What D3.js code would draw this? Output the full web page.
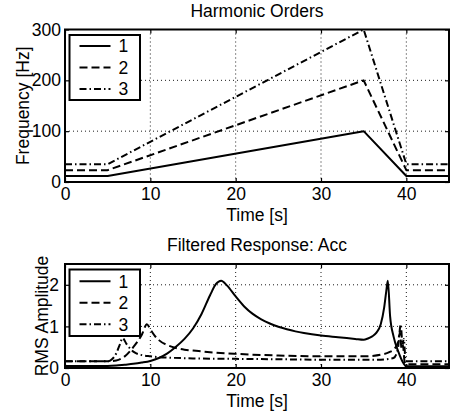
<!DOCTYPE html>
<html>
<head>
<meta charset="utf-8">
<script src="https://cdn.jsdelivr.net/npm/d3@7"></script>
<style>
  html, body { margin: 0; padding: 0; background: #fff; }
  svg { display: block; }
  text { font-family: "Liberation Sans", Arial, Helvetica, sans-serif; fill: #000; }
</style>
</head>
<body>
<svg id="chart" width="450" height="414"></svg>
<script>
// ---------- data ----------
const seriesNames = ["1", "2", "3"];

// Top panel: harmonic order frequencies
const orderTime = [0, 5, 35, 40, 45];
const order1Freq = [11.7, 11.7, 100, 11.7, 11.7];
const order2Freq = [23.3, 23.3, 200, 23.3, 23.3];
const order3Freq = [35, 35, 300, 35, 35];

// Bottom panel: filtered response RMS amplitude
const resp1Time = [0, 5, 6, 7, 8, 9, 10, 11, 12, 13, 14, 15, 16, 17, 17.7, 18.3, 19, 20, 21, 22, 23, 24, 25, 26, 27, 28, 30, 32, 34, 35, 35.5, 36, 36.5, 37, 37.4, 37.65, 37.83, 38.1, 38.5, 39.05, 39.65, 40, 45];
const resp1Amp  = [0.05, 0.05, 0.06, 0.08, 0.1, 0.13, 0.17, 0.24, 0.35, 0.51, 0.7, 0.95, 1.3, 1.75, 2.02, 2.1, 1.98, 1.72, 1.48, 1.3, 1.17, 1.07, 0.99, 0.93, 0.88, 0.84, 0.78, 0.74, 0.7, 0.68, 0.71, 0.76, 0.85, 1.05, 1.45, 1.85, 2.1, 1.24, 0.76, 0.4, 0.12, 0.04, 0.04];

const resp2Time = [0, 5, 6, 7, 8, 9, 9.6, 10, 10.5, 11, 12, 13, 14, 15, 17, 20, 25, 30, 35, 36, 37, 38, 38.6, 39.0, 39.25, 39.45, 39.6, 39.8, 40, 45];
const resp2Amp  = [0.16, 0.16, 0.18, 0.28, 0.5, 0.8, 1.05, 0.93, 0.78, 0.67, 0.55, 0.48, 0.44, 0.42, 0.38, 0.34, 0.3, 0.28, 0.28, 0.29, 0.32, 0.38, 0.46, 0.6, 0.85, 0.45, 0.55, 0.15, 0.09, 0.09];

const resp3Time = [0, 5, 5.5, 6, 6.4, 6.75, 7.2, 7.7, 8.2, 9, 10, 11, 12, 15, 20, 25, 30, 35, 37, 38, 38.5, 39.0, 39.35, 39.55, 39.7, 39.9, 40, 45];
const resp3Amp  = [0.16, 0.16, 0.21, 0.35, 0.55, 0.72, 0.58, 0.45, 0.37, 0.31, 0.28, 0.26, 0.25, 0.23, 0.22, 0.21, 0.2, 0.2, 0.2, 0.22, 0.24, 0.45, 1.05, 0.55, 0.7, 0.2, 0.16, 0.16];

const xTicks = [0, 10, 20, 30, 40];
const topYTicks = [0, 100, 200, 300];
const botYTicks = [0, 1, 2];

// ---------- drawing ----------
const svg = d3.select("#chart");
const FS = 17.5;
const dashes = [null, "8,4", "7,3,1.5,3"];

function zip(t, v) { return t.map((d, i) => [d, v[i]]); }

function panel(cfg) {
  const x = d3.scaleLinear().domain([0, 45]).range([cfg.left, cfg.right]);
  const y = d3.scaleLinear().domain(cfg.yDomain).range([cfg.bottom, cfg.top]);
  const g = svg.append("g");
  const clipId = "clip" + cfg.id;
  svg.append("defs").append("clipPath").attr("id", clipId)
    .append("rect").attr("x", cfg.left).attr("y", cfg.top)
    .attr("width", cfg.right - cfg.left).attr("height", cfg.bottom - cfg.top);

  // grid
  g.append("g").selectAll("line").data(xTicks.filter(d => d > 0)).join("line")
    .attr("x1", d => x(d)).attr("x2", d => x(d)).attr("y1", cfg.top).attr("y2", cfg.bottom)
    .attr("stroke", "#000").attr("stroke-width", 0.9).attr("stroke-dasharray", "1,3");
  g.append("g").selectAll("line").data(cfg.yTicks.filter(d => d > cfg.yDomain[0] && d < cfg.yDomain[1])).join("line")
    .attr("y1", d => y(d)).attr("y2", d => y(d)).attr("x1", cfg.left).attr("x2", cfg.right)
    .attr("stroke", "#000").attr("stroke-width", 0.9).attr("stroke-dasharray", "1,3");

  // axes (inward ticks)
  const ax = g.append("g").attr("transform", `translate(0,${cfg.bottom})`)
    .call(d3.axisBottom(x).tickValues(xTicks).tickSize(-4).tickPadding(cfg.xPad).tickFormat(d3.format("d")));
  const ay = g.append("g").attr("transform", `translate(${cfg.left},0)`)
    .call(d3.axisLeft(y).tickValues(cfg.yTicks).tickSize(-4).tickPadding(cfg.yPad).tickFormat(d3.format("d")));
  const axT = g.append("g").attr("transform", `translate(0,${cfg.top})`)
    .call(d3.axisTop(x).tickValues(xTicks).tickSize(-4).tickFormat(""));
  const ayR = g.append("g").attr("transform", `translate(${cfg.right},0)`)
    .call(d3.axisRight(y).tickValues(cfg.yTicks).tickSize(-4).tickFormat(""));
  [ax, ay, axT, ayR].forEach(a => {
    a.select(".domain").remove();
    a.selectAll(".tick line").attr("stroke", "#000").attr("stroke-width", 1.2);
    a.selectAll("text").attr("font-size", FS).attr("fill", "#000")
      .style("font-family", '"Liberation Sans", Arial, sans-serif');
  });

  // lines
  const line = d3.line().x(d => x(d[0])).y(d => y(d[1])).curve(cfg.curve);
  const lg = g.append("g").attr("clip-path", `url(#${clipId})`);
  cfg.series.forEach((s, i) => {
    lg.append("path").datum(s).attr("d", line)
      .attr("fill", "none").attr("stroke", "#000").attr("stroke-width", 2)
      .attr("stroke-dasharray", dashes[i]).attr("stroke-linejoin", "round");
  });

  // box
  g.append("rect").attr("x", cfg.left).attr("y", cfg.top)
    .attr("width", cfg.right - cfg.left).attr("height", cfg.bottom - cfg.top)
    .attr("fill", "none").attr("stroke", "#000").attr("stroke-width", 2);

  // title & labels
  g.append("text").attr("x", (cfg.left + cfg.right) / 2).attr("y", cfg.titleY)
    .attr("text-anchor", "middle").attr("font-size", FS).text(cfg.title);
  g.append("text").attr("x", (cfg.left + cfg.right) / 2).attr("y", cfg.xLabelY)
    .attr("text-anchor", "middle").attr("font-size", FS).text("Time [s]");
  g.append("text").attr("transform", `translate(${cfg.yLabelX},${(cfg.top + cfg.bottom) / 2}) rotate(-90)`)
    .attr("text-anchor", "middle").attr("font-size", FS).text(cfg.yLabel);

  // legend
  const L = cfg.legend;
  const leg = g.append("g");
  leg.append("rect").attr("x", L.x).attr("y", L.y).attr("width", L.w).attr("height", L.h)
    .attr("fill", "#fff").attr("stroke", "#000").attr("stroke-width", 2);
  seriesNames.forEach((n, i) => {
    const yy = L.y + L.h / 2 + (i - 1) * L.step;
    leg.append("line").attr("x1", L.x + 10).attr("x2", L.x + 41).attr("y1", yy).attr("y2", yy)
      .attr("stroke", "#000").attr("stroke-width", 2).attr("stroke-dasharray", dashes[i]);
    leg.append("text").attr("x", L.x + 49).attr("y", yy).attr("dy", "0.36em")
      .attr("font-size", FS).text(n);
  });
}

panel({
  id: "top", left: 65, right: 449, top: 29.5, bottom: 182,
  yDomain: [0, 300], yTicks: topYTicks, xPad: 6, yPad: 4,
  curve: d3.curveLinear,
  series: [zip(orderTime, order1Freq), zip(orderTime, order2Freq), zip(orderTime, order3Freq)],
  title: "Harmonic Orders", titleY: 17, xLabelY: 220.5, yLabel: "Frequency [Hz]", yLabelX: 28.5,
  legend: { x: 69.5, y: 35, w: 70.5, h: 65, step: 21.5 }
});

panel({
  id: "bot", left: 65, right: 449, top: 264, bottom: 368,
  yDomain: [0, 2.5], yTicks: botYTicks, xPad: 6, yPad: 6,
  curve: d3.curveMonotoneX,
  series: [zip(resp1Time, resp1Amp), zip(resp2Time, resp2Amp), zip(resp3Time, resp3Amp)],
  title: "Filtered Response: Acc", titleY: 251, xLabelY: 406.5, yLabel: "RMS Amplitude", yLabelX: 47.5,
  legend: { x: 69.5, y: 269.5, w: 70.5, h: 66.5, step: 21.5 }
});
</script>
</body>
</html>
